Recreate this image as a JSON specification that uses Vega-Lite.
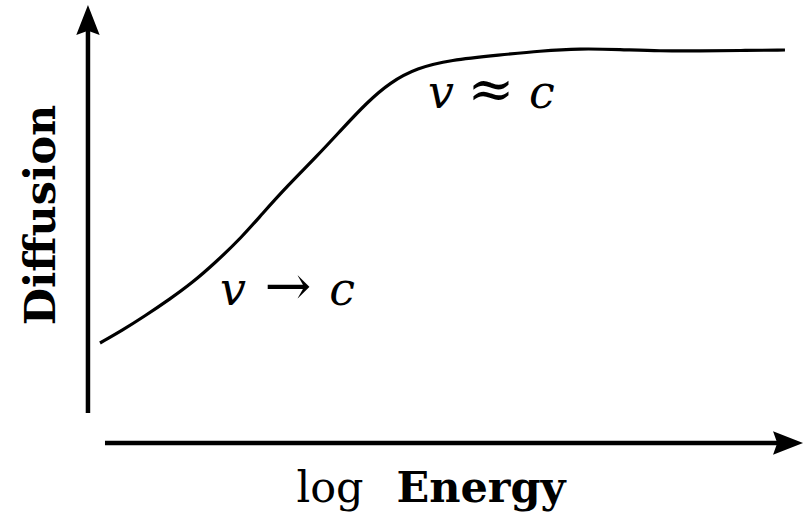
{
  "$schema": "https://vega.github.io/schema/vega-lite/v6.json",
  "width": 807,
  "height": 512,
  "padding": 0,
  "autosize": {"type": "fit", "contains": "padding"},
  "background": "white",
  "config": {"view": {"stroke": null}},
  "datasets": {
    "curve": [
      {"x": 12.39, "y": 33.01},
      {"x": 15.12, "y": 35.45},
      {"x": 17.97, "y": 38.3},
      {"x": 21.07, "y": 41.6},
      {"x": 23.79, "y": 44.73},
      {"x": 26.64, "y": 48.63},
      {"x": 29.99, "y": 53.71},
      {"x": 32.47, "y": 58.2},
      {"x": 35.56, "y": 63.6},
      {"x": 39.28, "y": 69.5},
      {"x": 42.38, "y": 74.8},
      {"x": 45.48, "y": 80.0},
      {"x": 48.33, "y": 83.9},
      {"x": 51.67, "y": 86.72},
      {"x": 55.76, "y": 88.28},
      {"x": 61.96, "y": 89.26},
      {"x": 66.91, "y": 90.04},
      {"x": 71.87, "y": 90.53},
      {"x": 76.83, "y": 90.33},
      {"x": 81.78, "y": 90.04},
      {"x": 86.74, "y": 90.04},
      {"x": 91.7, "y": 90.14},
      {"x": 97.27, "y": 90.23}
    ],
    "axes": [
      {"axis": "Diffusion", "x": 10.9, "y": 19.34, "x2": 10.9, "y2": 94.53},
      {"axis": "log Energy", "x": 13.01, "y": 13.48, "x2": 96.65, "y2": 13.48}
    ],
    "heads": [
      {"axis": "Diffusion", "x": 10.9, "y": 96.09, "angle": 0},
      {"axis": "log Energy", "x": 97.65, "y": 13.48, "angle": 90}
    ],
    "italic": [
      {"text": "v", "x": 28.87, "y": 40.43},
      {"text": "c", "x": 42.38, "y": 40.43},
      {"text": "v", "x": 54.65, "y": 78.91},
      {"text": "c", "x": 67.16, "y": 78.91}
    ],
    "symbols": [
      {"text": "→", "x": 35.69, "y": 40.43},
      {"text": "≈", "x": 60.84, "y": 78.91}
    ],
    "ylabel": [{"text": "Diffusion", "x": 6.82, "y": 58.01}],
    "xlog": [{"text": "log", "x": 40.89, "y": 1.95}],
    "xenergy": [{"text": "Energy", "x": 59.6, "y": 1.95}]
  },
  "encoding": {
    "x": {"field": "x", "type": "quantitative", "scale": {"domain": [0, 100], "nice": false, "zero": false}, "axis": null},
    "y": {"field": "y", "type": "quantitative", "scale": {"domain": [0, 100], "nice": false, "zero": false}, "axis": null}
  },
  "layer": [
    {
      "data": {"name": "curve"},
      "mark": {"type": "line", "color": "black", "strokeWidth": 3.2, "interpolate": "basis", "strokeCap": "butt"}
    },
    {
      "data": {"name": "axes"},
      "mark": {"type": "rule", "color": "black", "strokeWidth": 4.5, "strokeCap": "butt"},
      "encoding": {
        "x2": {"field": "x2"},
        "y2": {"field": "y2"}
      }
    },
    {
      "data": {"name": "heads"},
      "mark": {
        "type": "point",
        "filled": true,
        "color": "black",
        "opacity": 1,
        "size": 900,
        "strokeWidth": 0,
        "shape": "M0,-1L0.78,1L0,0.72L-0.78,1Z"
      },
      "encoding": {
        "angle": {"field": "angle", "type": "quantitative", "scale": null}
      }
    },
    {
      "data": {"name": "italic"},
      "mark": {"type": "text", "font": "DejaVu Serif", "fontStyle": "italic", "fontSize": 46, "align": "center", "baseline": "alphabetic", "color": "black"},
      "encoding": {"text": {"field": "text"}}
    },
    {
      "data": {"name": "symbols"},
      "mark": {"type": "text", "font": "DejaVu Serif", "fontSize": 56, "align": "center", "baseline": "alphabetic", "color": "black"},
      "encoding": {"text": {"field": "text"}}
    },
    {
      "data": {"name": "ylabel"},
      "mark": {"type": "text", "font": "DejaVu Serif", "fontWeight": "bold", "fontSize": 43, "angle": 270, "align": "center", "baseline": "alphabetic", "color": "black"},
      "encoding": {"text": {"field": "text"}}
    },
    {
      "data": {"name": "xlog"},
      "mark": {"type": "text", "font": "DejaVu Serif", "fontSize": 43, "align": "center", "baseline": "alphabetic", "color": "black"},
      "encoding": {"text": {"field": "text"}}
    },
    {
      "data": {"name": "xenergy"},
      "mark": {"type": "text", "font": "DejaVu Serif", "fontWeight": "bold", "fontSize": 43, "align": "center", "baseline": "alphabetic", "color": "black"},
      "encoding": {"text": {"field": "text"}}
    }
  ]
}
